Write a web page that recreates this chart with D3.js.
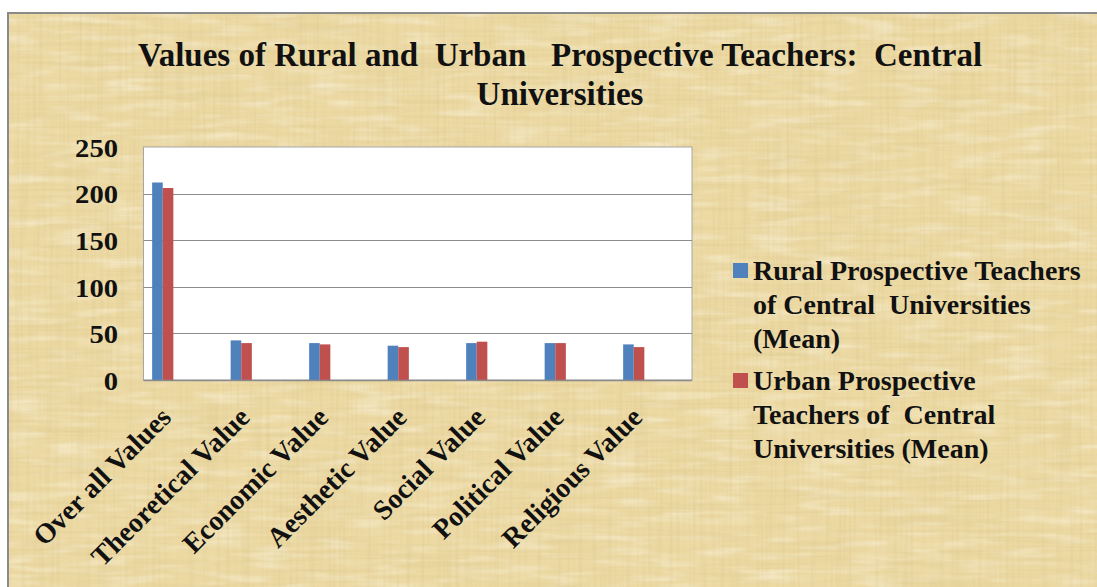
<!DOCTYPE html>
<html>
<head>
<meta charset="utf-8">
<script src="https://cdn.jsdelivr.net/npm/d3@7"></script>
<style>
  html, body { margin: 0; padding: 0; background: #ffffff; }
  svg { display: block; }
  text { font-family: "Liberation Serif", "Times New Roman", serif; font-weight: bold; fill: #111; }
</style>
</head>
<body>
<svg id="chart" width="1097" height="587"></svg>
<script>
// Mean value scores of prospective teachers, central universities
const categories = [
  "Over all Values", "Theoretical Value", "Economic Value", "Aesthetic Value",
  "Social Value", "Political Value", "Religious Value"
];
const seriesNames = ["rural", "urban"];
const ruralMeans = [211.9, 42.5, 39.6, 36.8, 39.6, 39.6, 38.2];
const urbanMeans = [206.0, 39.6, 38.2, 35.3, 41.1, 39.6, 35.3];
const yTicks = [0, 50, 100, 150, 200, 250];
const titleLines = ["Values of Rural and  Urban   Prospective Teachers:  Central", "Universities"];
const legendLabels = [
  ["Rural Prospective Teachers", "of Central  Universities", "(Mean)"],
  ["Urban Prospective", "Teachers of  Central", "Universities (Mean)"]
];
const seriesColors = ["#4f81bd", "#c0504d"];

const svg = d3.select("#chart");
const W = 1097, H = 587;

// ---- parchment background with fibre texture ----
const defs = svg.append("defs");
function fibreFilter(id, freq, octaves, seed, rgb, a, b) {
  const f = defs.append("filter").attr("id", id)
    .attr("x", 0).attr("y", 0).attr("width", "100%").attr("height", "100%");
  f.append("feTurbulence").attr("type", "fractalNoise")
    .attr("baseFrequency", freq).attr("numOctaves", octaves).attr("seed", seed);
  f.append("feColorMatrix").attr("type", "matrix").attr("values",
    `0 0 0 0 ${rgb[0]}  0 0 0 0 ${rgb[1]}  0 0 0 0 ${rgb[2]}  ${a} 0 0 0 ${b}`);
}
fibreFilter("fibH", "0.008 0.3", 2, 4, [0.6, 0.47, 0.2], 2.4, -1.05);
fibreFilter("fibV", "0.3 0.008", 2, 9, [0.6, 0.47, 0.2], 2.4, -1.05);
fibreFilter("fibL", "0.02 0.12", 2, 2, [1, 0.97, 0.86], -2.4, 1.3);

const frame = { x: 8, y: 13, w: W, h: H };
const bg = svg.append("g");
bg.append("rect").attr("fill", "#ecd9a3");
bg.append("rect").attr("filter", "url(#fibL)").attr("opacity", 0.45);
bg.append("rect").attr("filter", "url(#fibH)").attr("opacity", 0.18);
bg.append("rect").attr("filter", "url(#fibV)").attr("opacity", 0.18);
bg.selectAll("rect").attr("x", frame.x).attr("y", frame.y)
  .attr("width", frame.w).attr("height", frame.h);
svg.append("rect").attr("x", frame.x).attr("y", frame.y)
  .attr("width", frame.w).attr("height", frame.h)
  .attr("fill", "none").attr("stroke", "#8a8a8a").attr("stroke-width", 2);

// ---- title ----
svg.append("g").selectAll("text").data(titleLines).join("text")
  .attr("x", 560).attr("y", (d, i) => 66 + i * 39)
  .attr("text-anchor", "middle")
  .attr("font-size", 33)
  .style("white-space", "pre")
  .attr("xml:space", "preserve")
  .text(d => d);

// ---- plot area ----
const plot = { left: 143.5, right: 692, top: 147, bottom: 380 };
const y = d3.scaleLinear().domain([0, 250]).range([plot.bottom, plot.top]);
const x0 = d3.scaleBand().domain(categories)
  .range([plot.left - 20, plot.left - 20 + 7 * 78.5])
  .paddingInner(0.73).paddingOuter(0.365);
const x1 = d3.scaleBand().domain(seriesNames).range([0, x0.bandwidth()]);

svg.append("rect").attr("x", plot.left).attr("y", plot.top)
  .attr("width", plot.right - plot.left).attr("height", plot.bottom - plot.top)
  .attr("fill", "#ffffff").attr("stroke", "#a6a6a6").attr("stroke-width", 1);

// gridlines
svg.append("g").selectAll("line").data(yTicks.filter(t => t > 0 && t < 250)).join("line")
  .attr("x1", plot.left).attr("x2", plot.right)
  .attr("y1", d => Math.round(y(d)) + 0.5).attr("y2", d => Math.round(y(d)) + 0.5)
  .attr("stroke", "#8c8c8c").attr("stroke-width", 1.2);

// y axis labels
const yAxis = d3.axisLeft(y).tickValues(yTicks).tickSize(0).tickPadding(0);
const yg = svg.append("g").attr("transform", `translate(118,0)`).call(yAxis);
yg.select(".domain").remove();
yg.selectAll("text")
  .attr("font-size", 26).attr("font-family", null).attr("fill", null)
  .attr("dy", "0.36em").attr("x", 0)
  .attr("transform", d => `translate(0,${y(d) + 1}) scale(1.1,1) translate(0,${-y(d) - 1})`);

// bars
const rows = categories.map((c, i) => ({ cat: c, vals: [ruralMeans[i], urbanMeans[i]] }));
svg.append("g").selectAll("g").data(rows).join("g")
  .attr("transform", d => `translate(${x0(d.cat)},0)`)
  .selectAll("rect").data(d => d.vals.map((v, k) => ({ key: seriesNames[k], v, k })))
  .join("rect")
  .attr("x", d => x1(d.key))
  .attr("y", d => y(d.v))
  .attr("width", x1.bandwidth())
  .attr("height", d => y(0) - y(d.v))
  .attr("fill", d => seriesColors[d.k]);

// bottom axis line
svg.append("line").attr("x1", plot.left).attr("x2", plot.right)
  .attr("y1", plot.bottom + 0.5).attr("y2", plot.bottom + 0.5)
  .attr("stroke", "#8c8c8c").attr("stroke-width", 1.5);

// rotated category labels
svg.append("g").selectAll("text").data(categories).join("text")
  .attr("transform", d => `translate(${x0(d) + x0.bandwidth() / 2 + 10},419) rotate(-45)`)
  .attr("text-anchor", "end")
  .attr("font-size", 28)
  .text(d => d);

// ---- legend ----
const legend = svg.append("g");
legendLabels.forEach((lines, k) => {
  const base = k === 0 ? 280 : 390;
  legend.append("rect").attr("x", 733).attr("y", base - 17)
    .attr("width", 15).attr("height", 15).attr("fill", seriesColors[k]);
  legend.append("g").selectAll("text").data(lines).join("text")
    .attr("x", 753).attr("y", (d, i) => base + i * 34)
    .attr("font-size", 28)
    .attr("xml:space", "preserve")
    .style("white-space", "pre")
    .text(d => d);
});
</script>
</body>
</html>
